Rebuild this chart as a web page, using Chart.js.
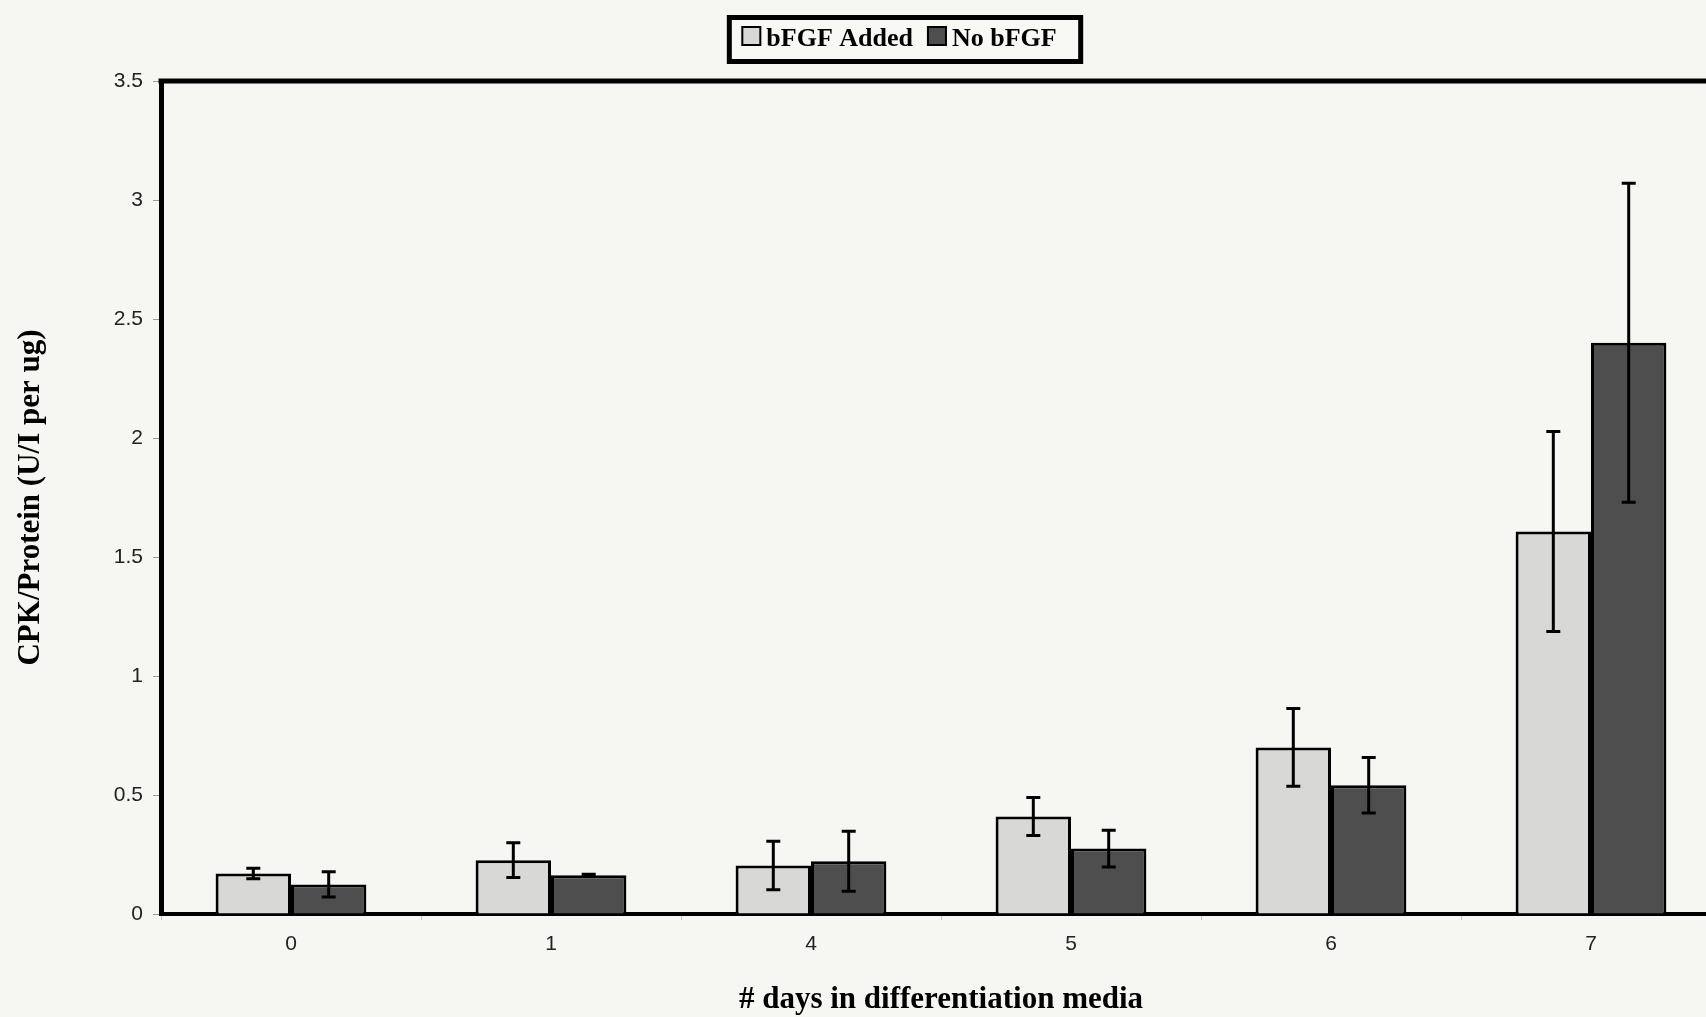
<!DOCTYPE html>
<html>
<head>
<meta charset="utf-8">
<script src="https://cdn.jsdelivr.net/npm/chart.js@4/dist/chart.umd.min.js"></script>
<style>
  html, body { margin: 0; padding: 0; background: #f6f6f2; overflow: hidden; }
  #wrap { width: 1730px; height: 1017px; }
</style>
</head>
<body>
<div id="wrap"><canvas id="c" width="1730" height="1017"></canvas></div>
<script>
// Days in differentiation media
const days = ['0', '1', '4', '5', '6', '7'];

// CPK/Protein means and error half-widths
const bfgfAdded    = [0.170, 0.226, 0.204, 0.410, 0.700, 1.607];
const bfgfAddedErr = [0.022, 0.073, 0.102, 0.080, 0.163, 0.420];
const noBfgf       = [0.124, 0.163, 0.222, 0.275, 0.541, 2.400];
const noBfgfErr    = [0.053, 0.004, 0.126, 0.077, 0.117, 0.670];

const seriesNames = ['bFGF Added', 'No bFGF'];
const yMin = 0, yMax = 3.5, yStep = 0.5;

const SERIF = '"Liberation Serif", "Times New Roman", serif';
const SANS = '"Liberation Sans", Arial, sans-serif';

// Paper background
const backgroundPlugin = {
  id: 'paper',
  beforeDraw(chart) {
    const ctx = chart.ctx;
    ctx.save();
    ctx.fillStyle = '#f6f6f2';
    ctx.fillRect(0, 0, chart.width, chart.height);
    ctx.restore();
  }
};

// Top frame line of the plot area
const frameTopPlugin = {
  id: 'frameTop',
  afterDraw(chart) {
    const { ctx, chartArea } = chart;
    ctx.save();
    ctx.strokeStyle = '#000';
    ctx.lineWidth = 5;
    ctx.beginPath();
    ctx.moveTo(chartArea.left - 2.5, chartArea.top);
    ctx.lineTo(chart.width, chartArea.top);
    ctx.stroke();
    ctx.restore();
  }
};

// Error bars with caps, one per bar
const errorBarPlugin = {
  id: 'errorBars',
  afterDatasetsDraw(chart) {
    const ctx = chart.ctx;
    const y = chart.scales.y;
    ctx.save();
    ctx.strokeStyle = '#000';
    ctx.lineWidth = 3;
    chart.data.datasets.forEach((ds, di) => {
      const meta = chart.getDatasetMeta(di);
      meta.data.forEach((bar, i) => {
        const v = ds.data[i], e = ds.errors[i];
        const yTop = y.getPixelForValue(v + e);
        const yBot = y.getPixelForValue(v - e);
        const cap = 7;
        ctx.beginPath();
        ctx.moveTo(bar.x, yTop); ctx.lineTo(bar.x, yBot);
        ctx.moveTo(bar.x - cap, yTop); ctx.lineTo(bar.x + cap, yTop);
        ctx.moveTo(bar.x - cap, yBot); ctx.lineTo(bar.x + cap, yBot);
        ctx.stroke();
      });
    });
    ctx.restore();
  }
};

// Boxed legend above the plot
const boxedLegendPlugin = {
  id: 'boxedLegend',
  afterDraw(chart) {
    const ctx = chart.ctx;
    const dsets = chart.data.datasets;
    const font = 'bold 26px ' + SERIF;
    const sq = 20, gapText = 5, gapItem = 14, padX = 12;
    ctx.save();
    ctx.font = font;
    const widths = dsets.map(d => ctx.measureText(d.label).width);
    let content = 0;
    widths.forEach((w, i) => { content += sq + gapText + w + (i < widths.length - 1 ? gapItem : 0); });
    const boxW = content + padX * 2 + 12;
    const boxH = 44;
    const cx = 905;
    const bx = cx - boxW / 2, by = 17.5;
    ctx.fillStyle = '#f8f8f5';
    ctx.fillRect(bx, by, boxW, boxH);
    ctx.strokeStyle = '#000';
    ctx.lineWidth = 5;
    ctx.strokeRect(bx, by, boxW, boxH);
    let x = bx + padX;
    const baseline = 46;
    dsets.forEach((d, i) => {
      ctx.fillStyle = d.backgroundColor;
      ctx.fillRect(x, 26, sq, sq);
      ctx.lineWidth = 2;
      ctx.strokeStyle = '#000';
      ctx.strokeRect(x + 1, 27, sq - 2, sq - 2);
      x += sq + gapText;
      ctx.fillStyle = '#000';
      ctx.textBaseline = 'alphabetic';
      ctx.fillText(d.label, x, baseline);
      x += widths[i] + gapItem;
    });
    ctx.restore();
  }
};

new Chart(document.getElementById('c'), {
  type: 'bar',
  data: {
    labels: days,
    datasets: [
      {
        label: seriesNames[0],
        data: bfgfAdded,
        errors: bfgfAddedErr,
        backgroundColor: '#d8d8d6',
        borderColor: '#000',
        borderWidth: 3,
        categoryPercentage: 0.58,
        barPercentage: 1.0
      },
      {
        label: seriesNames[1],
        data: noBfgf,
        errors: noBfgfErr,
        backgroundColor: '#4e4e4e',
        borderColor: '#000',
        borderWidth: 3,
        categoryPercentage: 0.58,
        barPercentage: 1.0
      }
    ]
  },
  options: {
    responsive: false,
    animation: false,
    devicePixelRatio: 1,
    layout: { padding: { top: 81, right: 9, bottom: 0, left: 0 } },
    plugins: {
      legend: { display: false },
      tooltip: { enabled: false }
    },
    scales: {
      x: {
        grid: {
          display: true,
          drawOnChartArea: false,
          drawTicks: true,
          tickLength: 6,
          color: '#c4c4c0',
          lineWidth: 1
        },
        border: { display: true, color: '#000', width: 4 },
        ticks: {
          font: { family: SANS, size: 21 },
          color: '#222',
          padding: 12,
          maxRotation: 0
        },
        title: {
          display: true,
          text: '# days in differentiation media',
          font: { family: SERIF, size: 31, weight: 'bold', lineHeight: 1.1 },
          color: '#000',
          padding: { top: 0, bottom: 0 }
        },
        afterFit(scale) {
          scale.height = 103;
          scale.paddingLeft = 0;
          scale.paddingRight = 0;
        }
      },
      y: {
        min: yMin,
        max: yMax,
        grid: {
          display: true,
          drawOnChartArea: false,
          drawTicks: true,
          tickLength: 8,
          color: '#9a9a9a',
          lineWidth: 1
        },
        border: { display: true, color: '#000', width: 5 },
        ticks: {
          stepSize: yStep,
          font: { family: SANS, size: 21 },
          color: '#222',
          padding: 10,
          callback: (v) => String(Number(v))
        },
        title: {
          display: true,
          text: 'CPK/Protein (U/I per ug)',
          font: { family: SERIF, size: 31, weight: 'bold' },
          color: '#000',
          padding: { top: 12, bottom: 0 }
        },
        afterFit(scale) {
          scale.width = 161;
          scale.paddingTop = 0;
          scale.paddingBottom = 0;
        }
      }
    }
  },
  plugins: [backgroundPlugin, errorBarPlugin, frameTopPlugin, boxedLegendPlugin]
});
</script>
</body>
</html>
